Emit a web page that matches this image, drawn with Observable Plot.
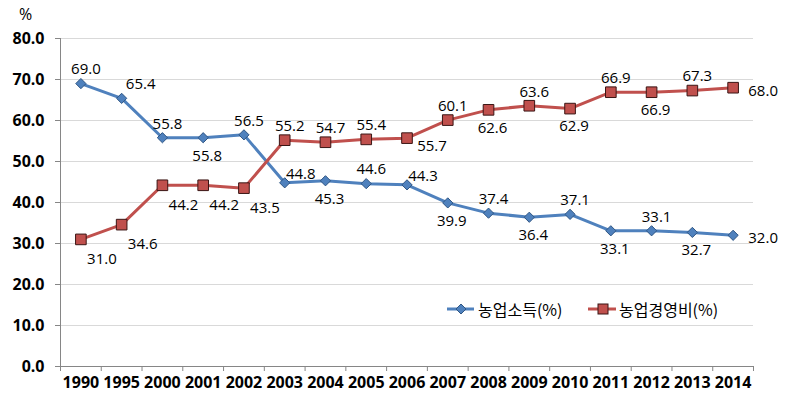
<!DOCTYPE html>
<html>
<head>
<meta charset="utf-8">
<script src="https://cdn.jsdelivr.net/npm/d3@7"></script>
<script src="https://cdn.jsdelivr.net/npm/@observablehq/plot@0.6"></script>
<style>
  body { margin: 0; background: white; }
  #wrap { position: relative; width: 787px; height: 406px; }
  .legend { position: absolute; top: 297px; left: 0; width: 787px; height: 24px;
            font-family: "Noto Sans CJK KR", sans-serif; font-size: 16px; color: #000; }
  .legend .item { position: absolute; top: 0; display: flex; align-items: center; height: 24px; }
  .legend svg { display: block; }
</style>
</head>
<body>
<div id="wrap"></div>
<script>
// ---- data ----
const years = ["1990","1995","2000","2001","2002","2003","2004","2005","2006","2007","2008","2009","2010","2011","2012","2013","2014"];
const incomeShare = [69.0,65.4,55.8,55.8,56.5,44.8,45.3,44.6,44.3,39.9,37.4,36.4,37.1,33.1,33.1,32.7,32.0];
const costShare   = [31.0,34.6,44.2,44.2,43.5,55.2,54.7,55.4,55.7,60.1,62.6,63.6,62.9,66.9,66.9,67.3,68.0];
const seriesNames = ["농업소득(%)", "농업경영비(%)"];
const yTicks = [0,10,20,30,40,50,60,70,80];
// label side for each point (t = above, b = below, tr/br = above/below right, rt/rb = right, slightly up/down, r = right)
const incomeSide = ["t","tr","t","b","t","rt","b","t","rt","b","t","b","t","b","t","b","r"];
const costSide   = ["br","br","br","br","br","t","t","t","rb","t","b","t","b","t","b","t","r"];

const blue = "#4F81BD", blueEdge = "#2f5684";
const red = "#C0504D", redEdge = "#3a1514";

const rows = [];
years.forEach((y, i) => {
  rows.push({i, year: y, v: incomeShare[i], s: seriesNames[0], side: incomeSide[i]});
  rows.push({i, year: y, v: costShare[i], s: seriesNames[1], side: costSide[i]});
});
const inc = rows.filter(d => d.s === seriesNames[0]);
const cost = rows.filter(d => d.s === seriesNames[1]);
const n = years.length;
const bounds = d3.range(n + 1).map(k => k - 0.5);

const offsets = {
  t:  {dx: 5,  dy: -14},
  tr: {dx: 19, dy: -14},
  rt: {dx: 16, dy: -9},
  b:  {dx: 4,  dy: 18},
  br: {dx: 21, dy: 20},
  rb: {dx: 25, dy: 8},
  r:  {dx: 30, dy: 3}
};
function labels(data) {
  return Object.entries(offsets).map(([side, o]) =>
    Plot.text(data.filter(d => d.side === side), {
      x: "i", y: "v", text: d => d.v.toFixed(1),
      dx: o.dx, dy: o.dy, fontSize: 15, fill: "#000",
      fontFamily: "'Open Sans', sans-serif"
    }));
}

const chart = Plot.plot({
  width: 787, height: 406,
  marginLeft: 60, marginRight: 34, marginTop: 38, marginBottom: 40,
  x: {type: "linear", domain: [-0.5, n - 0.5], axis: null},
  y: {domain: [0, 80], axis: null},
  style: {fontFamily: "'Open Sans', sans-serif", background: "white", overflow: "visible"},
  marks: [
    Plot.gridY(yTicks.filter(t => t > 0), {stroke: "#d9d9d9", strokeOpacity: 1}),
    Plot.axisY(yTicks, {tickFormat: d => d.toFixed(1), tickSize: 5, tickPadding: 11,
      fontSize: 16, fontWeight: "bold", stroke: "#868686", fill: "#000", label: null}),
    Plot.axisX(d3.range(n), {tickFormat: i => years[i], tickSize: 0, tickPadding: 10,
      fontSize: 16, fontWeight: "bold", fill: "#000", label: null}),
    Plot.axisX(bounds, {tickFormat: () => "", tickSize: 5, stroke: "#868686", label: null}),
    Plot.ruleY([0], {stroke: "#868686"}),
    Plot.ruleX([-0.5], {stroke: "#868686"}),
    Plot.line(inc, {x: "i", y: "v", stroke: blue, strokeWidth: 3}),
    Plot.dot(inc, {x: "i", y: "v", symbol: "diamond2", r: 4.6, fill: blue, stroke: blueEdge, strokeWidth: 1}),
    Plot.line(cost, {x: "i", y: "v", stroke: red, strokeWidth: 3}),
    Plot.dot(cost, {x: "i", y: "v", symbol: "square", r: 6, fill: red, stroke: redEdge, strokeWidth: 1}),
    ...labels(inc),
    ...labels(cost),
    Plot.text(["%"], {frameAnchor: "top-left", dx: -35, dy: -24, textAnchor: "middle",
      lineAnchor: "middle", fontSize: 16, fill: "#000"})
  ]
});

const wrap = document.getElementById("wrap");
wrap.appendChild(chart);

// legend (inside the plot area, bottom right)
const legend = document.createElement("div");
legend.className = "legend";
legend.innerHTML = `
  <div class="item" style="left:447px">
    <svg width="28" height="14"><line x1="0" y1="7" x2="27" y2="7" stroke="${blue}" stroke-width="3"/>
      <path d="M14 2 L19 7 L14 12 L9 7 Z" fill="${blue}" stroke="${blueEdge}"/></svg>
    <span style="margin-left:3px">${seriesNames[0]}</span>
  </div>
  <div class="item" style="left:588px">
    <svg width="29" height="14"><line x1="0" y1="7" x2="28" y2="7" stroke="${red}" stroke-width="3"/>
      <rect x="10" y="2" width="10" height="10" fill="${red}" stroke="${redEdge}"/></svg>
    <span style="margin-left:2px">${seriesNames[1]}</span>
  </div>`;
wrap.appendChild(legend);
</script>
</body>
</html>
